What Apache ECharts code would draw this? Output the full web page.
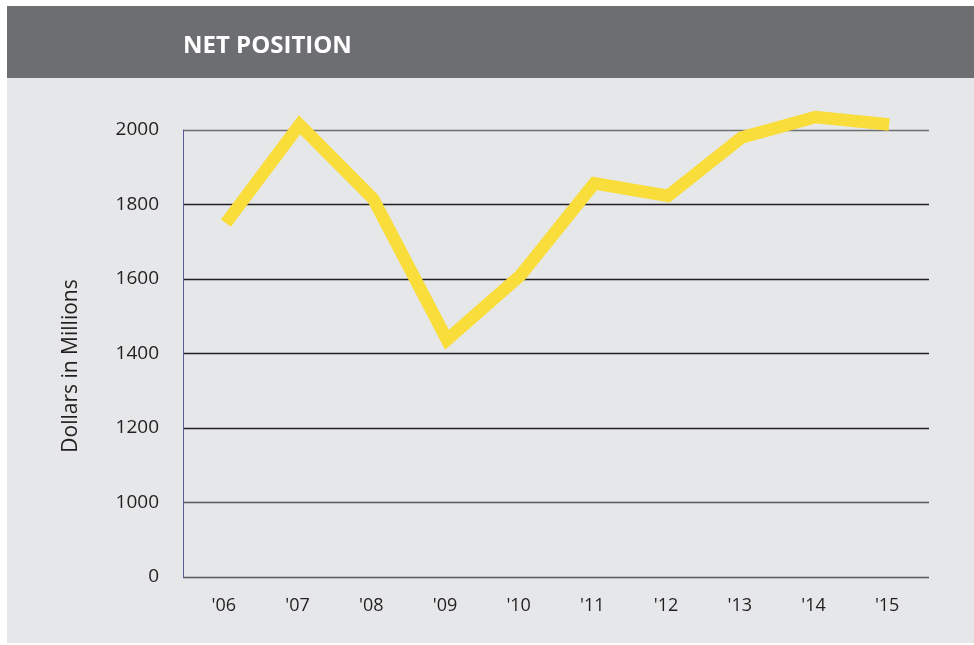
<!DOCTYPE html>
<html>
<head>
<meta charset="utf-8">
<script src="https://cdn.jsdelivr.net/npm/echarts@6/dist/echarts.min.js"></script>
<style>
  html, body { margin: 0; padding: 0; background: #fff; }
  #main { width: 974px; height: 645px; }
</style>
</head>
<body>
<div id="main"></div>
<script>
// years on the x axis
const years = ["'06", "'07", "'08", "'09", "'10", "'11", "'12", "'13", "'14", "'15"];
// net position, dollars in millions
const netPosition = [1750, 2014, 1815, 1437, 1610, 1857, 1823, 1980, 2035, 2015];
// the axis is broken: the bottom tick stands for 0
const yTicks = [800, 1000, 1200, 1400, 1600, 1800, 2000];
const yTickLabels = ['0', '1000', '1200', '1400', '1600', '1800', '2000'];

const font = '"Open Sans", "Liberation Sans", sans-serif';
const myChart = echarts.init(document.getElementById('main'));

const option = {
  backgroundColor: '#fff',
  animation: false,
  graphic: [
    { type: 'rect', shape: { x: 7, y: 6, width: 967, height: 72 }, style: { fill: '#6d6e71' }, z: -10 },
    { type: 'rect', shape: { x: 7, y: 78, width: 967, height: 565 }, style: { fill: '#e6e7e8' }, z: -10 },
    {
      type: 'text', x: 183, y: 46,
      style: { text: 'NET POSITION', fill: '#fff', font: 'bold 24px ' + font, verticalAlign: 'middle' }
    },
    {
      type: 'text', x: 71, y: 366, rotation: Math.PI / 2,
      style: { text: 'Dollars in Millions', fill: '#231f20', font: '21px ' + font, align: 'center', verticalAlign: 'middle' }
    }
  ],
  grid: [
    { left: 183, right: 45, top: 130, bottom: 68 }, // frame + gridlines
    { left: 189, right: 48, top: 130, bottom: 68 }  // data
  ],
  xAxis: [
    { gridIndex: 0, type: 'value', show: false, min: 0, max: 1 },
    {
      gridIndex: 1, type: 'category', data: years, boundaryGap: true,
      axisLine: { show: false }, axisTick: { show: false },
      axisLabel: { color: '#231f20', fontSize: 18, fontFamily: font, margin: 20, padding: [0, 4, 0, 0] }
    }
  ],
  yAxis: [
    {
      gridIndex: 0, type: 'value', min: 800, max: 2000, interval: 200,
      axisLine: { show: true, lineStyle: { color: '#5a5c9e', width: 1 } },
      axisTick: { show: false },
      axisLabel: {
        color: '#231f20', fontSize: 19, fontFamily: font, margin: 24,
        formatter: v => yTickLabels[yTicks.indexOf(v)]
      },
      splitLine: {
        show: true,
        lineStyle: { width: 1.3, color: ['#58595b', '#58595b', '#231f20', '#231f20', '#231f20', '#231f20', '#6d6e71'] }
      }
    },
    { gridIndex: 1, type: 'value', min: 800, max: 2000, interval: 200, show: false, splitLine: { show: false } }
  ],
  series: [
    {
      name: 'Net Position',
      type: 'line',
      xAxisIndex: 1,
      yAxisIndex: 1,
      data: netPosition,
      symbol: 'none',
      clip: false,
      lineStyle: { color: '#f9dd3a', width: 12.5, cap: 'butt', join: 'miter', miterLimit: 10 },
      z: 5
    }
  ]
};

myChart.setOption(option);
</script>
</body>
</html>
